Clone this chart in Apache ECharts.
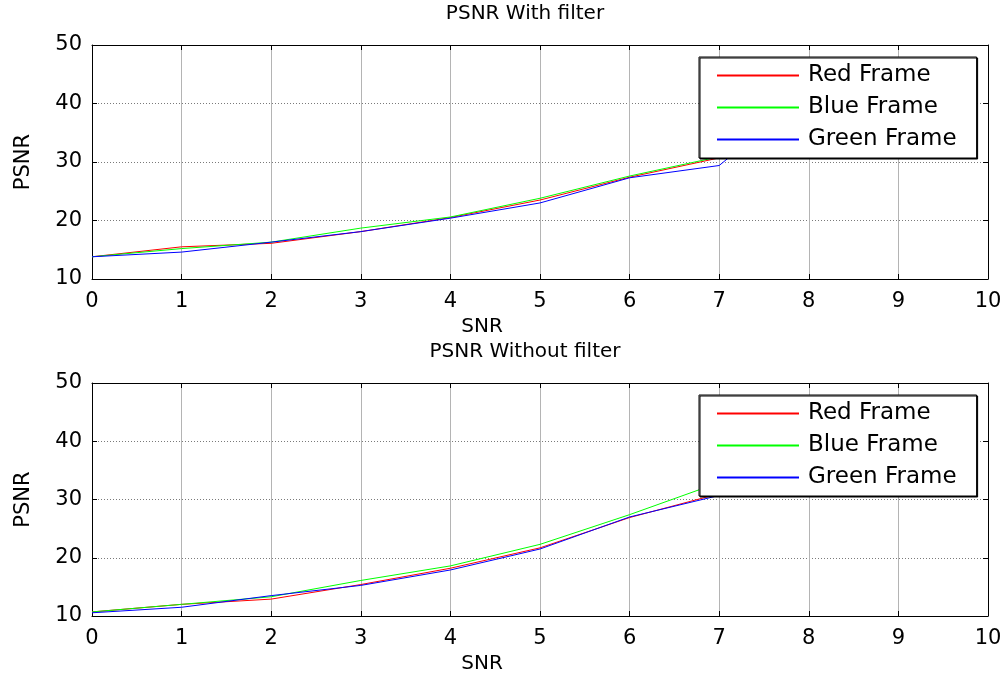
<!DOCTYPE html>
<html>
<head>
<meta charset="utf-8">
<script src="https://cdn.jsdelivr.net/npm/echarts@6/dist/echarts.min.js"></script>
<style>html,body{margin:0;padding:0;background:#fff}#c{width:1005px;height:675px}</style>
</head>
<body>
<div id="c"></div>
<script>
const snr = [0, 1, 2, 3, 4, 5, 6, 7, 8];
const seriesNames = ['Red Frame', 'Blue Frame', 'Green Frame'];
const seriesColors = ['#ff0000', '#00ff00', '#0000ff'];
const titles = ['PSNR With filter', 'PSNR Without filter'];
const yTicks = [10, 20, 30, 40, 50];

const withRed   = [13.8, 15.5, 16.1, 18.1, 20.5, 23.5, 27.4, 30.7, 38.0];
const withGreen = [13.8, 15.2, 16.3, 18.7, 20.6, 23.8, 27.6, 30.9, 38.5];
const withBlue  = [13.8, 14.6, 16.3, 18.1, 20.4, 23.0, 27.3, 29.4, 42.0];

const withoutRed   = [10.7, 12.0, 12.9, 15.4, 18.2, 21.7, 26.9, 31.0, 37.0];
const withoutGreen = [10.7, 12.0, 13.3, 16.1, 18.6, 22.3, 27.4, 32.9, 39.0];
const withoutBlue  = [10.55, 11.5, 13.5, 15.25, 17.9, 21.5, 27.0, 30.7, 36.0];

const panels = [[withRed, withGreen, withBlue], [withoutRed, withoutGreen, withoutBlue]];

const FONT = 'DejaVu Sans';
const gridTops = [45, 383];
const gridH = 234;

const grids = [], xAxes = [], yAxes = [], series = [], legends = [], titleArr = [];
panels.forEach((panel, p) => {
  grids.push({left: 92, right: 17, top: gridTops[p], height: gridH, show: false});
  xAxes.push({
    type: 'value', gridIndex: p, min: 0, max: 10, interval: 1, position: 'bottom',
    axisLine: {show: true, onZero: false, lineStyle: {color: '#000', width: 1}},
    axisTick: {show: true, inside: true, length: 5, lineStyle: {color: '#000'}},
    axisLabel: {color: '#000', fontFamily: FONT, fontSize: 21, margin: 12},
    splitLine: {show: true, lineStyle: {color: '#b4b4b4', type: 'solid', width: 1}},
    name: 'SNR', nameLocation: 'middle', nameGap: 38,
    nameTextStyle: {color: '#000', fontFamily: FONT, fontSize: 20, padding: [0, 116, 0, 0]}
  });
  xAxes.push({
    type: 'value', gridIndex: p, min: 0, max: 10, interval: 1, position: 'top',
    axisLine: {show: true, onZero: false, lineStyle: {color: '#000', width: 1}},
    axisTick: {show: true, inside: true, length: 5, lineStyle: {color: '#000'}},
    axisLabel: {show: false}, splitLine: {show: false}
  });
  yAxes.push({
    type: 'value', gridIndex: p, min: 10, max: 50, interval: 10, position: 'left',
    axisLine: {show: true, onZero: false, lineStyle: {color: '#000', width: 1}},
    axisTick: {show: true, inside: true, length: 5, lineStyle: {color: '#000'}},
    axisLabel: {color: '#000', fontFamily: FONT, fontSize: 21, margin: 10,
      formatter: v => yTicks.includes(v) ? String(v) : ''},
    splitLine: {show: true, lineStyle: {color: '#7a7a7a', type: [1, 2], width: 1}},
    name: 'PSNR', nameLocation: 'middle', nameGap: 58,
    nameTextStyle: {color: '#000', fontFamily: FONT, fontSize: 21}
  });
  yAxes.push({
    type: 'value', gridIndex: p, min: 10, max: 50, interval: 10, position: 'right',
    axisLine: {show: true, onZero: false, lineStyle: {color: '#000', width: 1}},
    axisTick: {show: true, inside: true, length: 5, lineStyle: {color: '#000'}},
    axisLabel: {show: false}, splitLine: {show: false}
  });
  panel.forEach((vals, s) => {
    series.push({
      type: 'line', name: seriesNames[s], xAxisIndex: p * 2, yAxisIndex: p * 2,
      data: snr.map((x, i) => [x, vals[i]]),
      symbol: 'none', showSymbol: false, animation: false,
      lineStyle: {color: seriesColors[s], width: 1}, itemStyle: {color: seriesColors[s]},
      z: 2
    });
  });
  legends.push({
    left: 699, top: gridTops[p] + 12, orient: 'vertical', data: seriesNames,
    backgroundColor: '#fff', borderColor: '#000', borderWidth: 1,
    shadowColor: '#000', shadowOffsetX: 1, shadowOffsetY: 1, shadowBlur: 0,
    padding: [7, 20, 7, 17], itemWidth: 82, itemHeight: 14, itemGap: 9,
    itemStyle: {opacity: 0},
    selectedMode: false, z: 10,
    textStyle: {color: '#000', fontFamily: FONT, fontSize: 23, lineHeight: 23, padding: [0, 0, 0, 4]}
  });
  titleArr.push({
    text: titles[p], left: 520, top: gridTops[p] - 46, textAlign: 'center',
    textStyle: {color: '#000', fontFamily: FONT, fontSize: 20, fontWeight: 'normal'}
  });
});

const chart = echarts.init(document.getElementById('c'), null, {renderer: 'canvas'});
chart.setOption({
  backgroundColor: '#fff',
  animation: false,
  title: titleArr,
  grid: grids,
  xAxis: xAxes,
  yAxis: yAxes,
  legend: legends,
  series: series
});
</script>
</body>
</html>
